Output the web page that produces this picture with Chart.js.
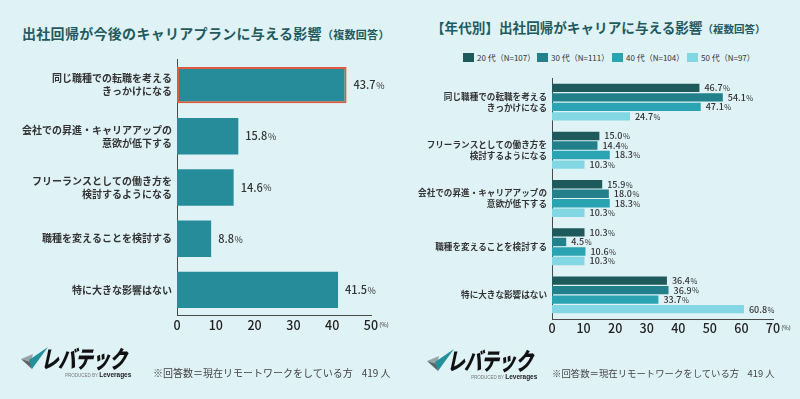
<!DOCTYPE html>
<html lang="ja">
<head>
<meta charset="utf-8">
<script src="https://cdn.jsdelivr.net/npm/chart.js@4.4.1/dist/chart.umd.min.js"></script>
<style>
  html, body { margin: 0; padding: 0; background: #dff2f6; }
  body { width: 800px; height: 399px; position: relative; overflow: hidden;
         font-family: 'Noto Sans CJK JP', 'Noto Sans', sans-serif; }
  .title { position: absolute; font-weight: bold; color: #1f5a5e; white-space: nowrap; line-height: 1; }
  .title small { font-size: 11px; }
  .panel { position: absolute; top: 0; width: 400px; height: 399px; }
  .legend { position: absolute; top: 53px; font-size: 8px; color: #333; line-height: 9px; white-space: nowrap; }
  .legend i { display: inline-block; width: 11px; height: 9px; vertical-align: top; margin-right: 3px; }
  .note { position: absolute; color: #444; white-space: nowrap; line-height: 1; }
  .logo { position: absolute; width: 120px; height: 34px; }
  .logo svg { position: absolute; left: 0; top: 0; }
  .brand { position: absolute; left: 27px; top: -6px; font-size: 24px; font-weight: 900; color: #111;
           transform: skewX(-12deg) scaleX(0.74); transform-origin: left top; letter-spacing: -1px; white-space: nowrap; }
  .prod { position: absolute; left: 45px; top: 25px; font-family: 'Liberation Sans', sans-serif; font-size: 4.5px;
          color: #777; white-space: nowrap; }
  .prod b { font-size: 6.5px; color: #222; }
</style>
</head>
<body>

<!-- ── Left: overall ───────────────────────── -->
<div class="title" style="left:22px;top:26px;font-size:14px;letter-spacing:0.3px">出社回帰が今後のキャリアプランに与える影響<small>（複数回答）</small></div>
<canvas id="overallChart" class="panel" style="left:0" width="400" height="399"></canvas>

<!-- ── Right: by age ───────────────────────── -->
<div class="title" style="left:431px;top:21px;font-size:13.6px">【年代別】出社回帰がキャリアに与える影響<small style="font-size:10.5px">（複数回答）</small></div>
<div id="ageLegend"></div>
<canvas id="ageChart" class="panel" style="left:400px" width="400" height="399"></canvas>

<!-- ── Footer ──────────────────────────────── -->
<div class="note" style="left:153px;top:368px;font-size:10px">※回答数＝現在リモートワークをしている方&nbsp;&nbsp;&nbsp;&nbsp;419 人</div>
<div class="note" style="left:552px;top:369px;font-size:9.4px">※回答数＝現在リモートワークをしている方&nbsp;&nbsp;&nbsp;&nbsp;419 人</div>

<div class="logo" style="left:20px;top:346px">
  <svg width="30" height="24" viewBox="0 0 30 24">
    <polygon points="1,13 13,8 11,16" fill="#9aa3a6"/>
    <polygon points="1,13 11,16 12,23" fill="#5c6466"/>
    <polygon points="28,1 9,14 12,23" fill="#23909b"/>
  </svg>
  <span class="brand">レバテック</span>
  <span class="prod">PRODUCED BY <b>Leverages</b></span>
</div>
<div class="logo" style="left:426px;top:348px">
  <svg width="30" height="24" viewBox="0 0 30 24">
    <polygon points="1,13 13,8 11,16" fill="#9aa3a6"/>
    <polygon points="1,13 11,16 12,23" fill="#5c6466"/>
    <polygon points="28,1 9,14 12,23" fill="#23909b"/>
  </svg>
  <span class="brand">レバテック</span>
  <span class="prod">PRODUCED BY <b>Leverages</b></span>
</div>

<script>
/* ── Data ─────────────────────────────────── */
const overallLabels = [
  ['同じ職種での転職を考える', 'きっかけになる'],
  ['会社での昇進・キャリアアップの', '意欲が低下する'],
  ['フリーランスとしての働き方を', '検討するようになる'],
  '職種を変えることを検討する',
  '特に大きな影響はない',
];
const overallValues = [43.7, 15.8, 14.6, 8.8, 41.5];
const overallTicks = [0, 10, 20, 30, 40, 50];

const ageCategories = [
  ['同じ職種での転職を考える', 'きっかけになる'],
  ['フリーランスとしての働き方を', '検討するようになる'],
  ['会社での昇進・キャリアアップの', '意欲が低下する'],
  '職種を変えることを検討する',
  '特に大きな影響はない',
];
const ageGroups = ['20 代（N=107）', '30 代（N=111）', '40 代（N=104）', '50 代（N=97）'];
const age20s = [46.7, 15.0, 15.9, 10.3, 36.4];
const age30s = [54.1, 14.4, 18.0, 4.5, 36.9];
const age40s = [47.1, 18.3, 18.3, 10.6, 33.7];
const age50s = [24.7, 10.3, 10.3, 10.3, 60.8];
const ageTicks = [0, 10, 20, 30, 40, 50, 60, 70];

const FONT = "'Noto Sans CJK JP', 'Noto Sans', sans-serif";
const COLORS = {
  bar: '#278c99',
  highlight: '#e05a3c',
  ages: ['#1e5a5b', '#22808a', '#2aa4b3', '#82d7e2'],
  axis: '#4a4a4a',
  text: '#333',
};

// value label at the end of each bar, "%" a bit smaller
const valueLabels = {
  id: 'valueLabels',
  afterDatasetsDraw(chart, args, opts) {
    const { ctx } = chart;
    ctx.save();
    ctx.fillStyle = COLORS.text;
    ctx.textBaseline = 'middle';
    chart.data.datasets.forEach((ds, i) => {
      chart.getDatasetMeta(i).data.forEach((bar, j) => {
        const txt = ds.data[j].toFixed(1);
        let x = bar.x + opts.gap;
        ctx.font = `500 ${opts.size}px ${FONT}`;
        ctx.fillText(txt, x, bar.y);
        x += ctx.measureText(txt).width + 0.5;
        ctx.font = `${opts.pctSize}px ${FONT}`;
        ctx.fillText('%', x, bar.y + 0.5);
      });
    });
    ctx.restore();
  },
};

// small "(%)" after the last x tick
const unitMark = {
  id: 'unitMark',
  afterDraw(chart, args, opts) {
    const { ctx } = chart;
    const sx = chart.scales.x;
    const maxX = sx.getPixelForValue(sx.max);
    ctx.save();
    ctx.font = `500 ${opts.tickSize}px ${FONT}`;
    const w = ctx.measureText(String(sx.max)).width;
    ctx.font = `6px ${FONT}`;
    ctx.fillStyle = COLORS.text;
    ctx.textBaseline = 'middle';
    ctx.fillText('(%)', maxX + w / 2 + 1, chart.chartArea.bottom + 9);
    ctx.restore();
  },
};

const axes = (max, ticks, yWidth, labelSize, lineHeight) => ({
  x: {
    min: 0, max: max,
    afterBuildTicks: (s) => { s.ticks = ticks.map(v => ({ value: v })); },
    afterFit: (s) => { s.height = 30; },
    grid: { display: false, drawTicks: false },
    border: { display: true, color: COLORS.axis, width: 1 },
    ticks: { color: '#222', padding: 2, font: { size: 12.5, weight: '500', family: FONT } },
  },
  y: {
    afterFit: (s) => { s.width = yWidth; },
    grid: { display: false, drawTicks: false },
    border: { display: true, color: COLORS.axis, width: 1 },
    ticks: { color: COLORS.text, padding: 5, font: { size: labelSize, weight: 'bold', family: FONT, lineHeight: lineHeight } },
  },
});

/* ── Overall chart ───────────────────────── */
new Chart(document.getElementById('overallChart'), {
  type: 'bar',
  data: {
    labels: overallLabels,
    datasets: [{
      data: overallValues,
      backgroundColor: COLORS.bar,
      borderColor: overallValues.map((v, i) => i === 0 ? COLORS.highlight : COLORS.bar),
      borderWidth: overallValues.map((v, i) => i === 0 ? 2 : 0),
      borderSkipped: false,
      barPercentage: 0.71,
      categoryPercentage: 1,
    }],
  },
  options: {
    indexAxis: 'y',
    responsive: false,
    animation: false,
    devicePixelRatio: 1,
    layout: { padding: { top: 59.5, right: 29, bottom: 53.5, left: 0 } },
    plugins: {
      legend: { display: false },
      tooltip: { enabled: false },
      valueLabels: { gap: 7, size: 11, pctSize: 9 },
      unitMark: { tickSize: 12.5 },
    },
    scales: axes(50, overallTicks, 177, 10, 1.3),
  },
  plugins: [valueLabels, unitMark],
});

/* ── By-age chart ────────────────────────── */
const ageSeries = [age20s, age30s, age40s, age50s];

document.getElementById('ageLegend').innerHTML = ageGroups.map((g, i) =>
  `<div class="legend" style="left:${[463, 537, 612, 687][i]}px"><i style="background:${COLORS.ages[i]}"></i>${g}</div>`
).join('');

new Chart(document.getElementById('ageChart'), {
  type: 'bar',
  data: {
    labels: ageCategories,
    datasets: ageSeries.map((s, i) => ({
      label: ageGroups[i],
      data: s,
      backgroundColor: COLORS.ages[i],
      borderWidth: 0,
      barPercentage: 0.88,
      categoryPercentage: 0.79,
    })),
  },
  options: {
    indexAxis: 'y',
    responsive: false,
    animation: false,
    devicePixelRatio: 1,
    layout: { padding: { top: 78, right: 27, bottom: 50, left: 0 } },
    plugins: {
      legend: { display: false },
      tooltip: { enabled: false },
      valueLabels: { gap: 5, size: 9, pctSize: 7.5 },
      unitMark: { tickSize: 12.5 },
    },
    scales: axes(70, ageTicks, 152, 8.6, 1.25),
  },
  plugins: [valueLabels, unitMark],
});
</script>
</body>
</html>
